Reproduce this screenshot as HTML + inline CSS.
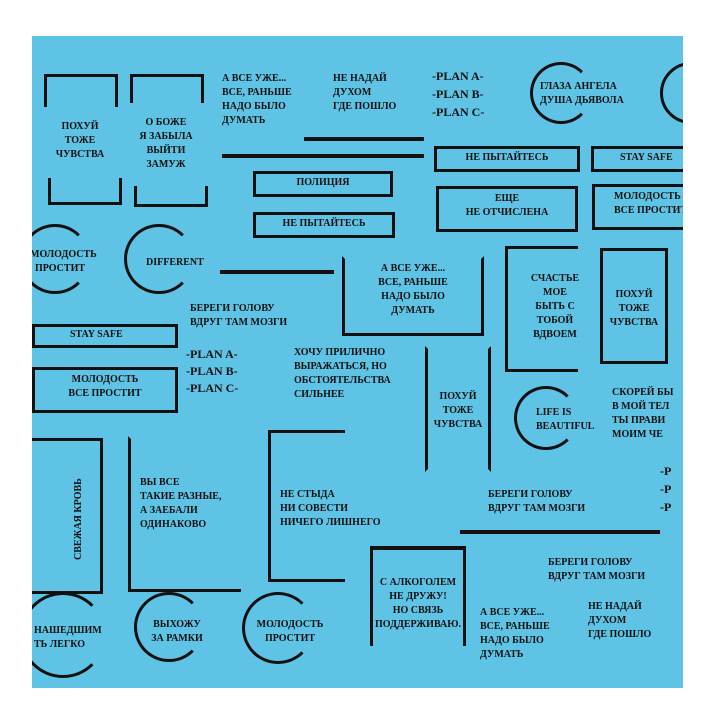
<!DOCTYPE html><html><head><meta charset="utf-8"><style>
body{margin:0;width:720px;height:720px;background:#fff;position:relative;overflow:hidden}
#s{position:absolute;left:32px;top:36px;width:651px;height:652px;background:#5ec3e4;overflow:hidden}
.t{position:absolute;font:bold 10px/14px "Liberation Serif","DejaVu Serif",serif;color:#111;white-space:pre;transform:translate(-32px,-36px)}
.c{text-align:center}
.b{position:absolute;border:3px solid #111;transform:translate(-32px,-36px)}
.l{position:absolute;background:#111;height:4px;transform:translate(-32px,-36px)}
.o{position:absolute;border:3px solid #111;border-radius:50%;transform:translate(-32px,-36px)}
.bt{border-bottom:none;height:auto}
</style></head><body><div id="s">
<!-- top brackets -->
<div class="b" style="left:44px;top:74px;width:68px;height:30px;border-bottom:none"></div>
<div class="b" style="left:48px;top:178px;width:68px;height:24px;border-top:none"></div>
<div class="t c" style="left:50px;top:120px;width:60px">ПОХУЙ
ТОЖЕ
ЧУВСТВА</div>
<div class="b" style="left:130px;top:74px;width:68px;height:26px;border-bottom:none"></div>
<div class="b" style="left:134px;top:186px;width:68px;height:18px;border-top:none"></div>
<div class="t c" style="left:128px;top:116px;width:76px">О БОЖЕ
Я ЗАБЫЛА
ВЫЙТИ
ЗАМУЖ</div>
<div class="t" style="left:222px;top:72px">А ВСЕ УЖЕ...
ВСЕ, РАНЬШЕ
НАДО БЫЛО
ДУМАТЬ</div>
<div class="t" style="left:333px;top:72px">НЕ НАДАЙ
ДУХОМ
ГДЕ ПОШЛО</div>
<div class="l" style="left:304px;top:137px;width:120px"></div>
<div class="l" style="left:222px;top:154px;width:202px"></div>
<div class="t" style="left:432px;top:67px;font-size:12px;line-height:18px">-PLAN A-
-PLAN B-
-PLAN C-</div>
<div class="o" style="left:530px;top:62px;width:56px;height:56px;border-right-color:transparent"></div>
<div class="t" style="left:540px;top:80px">ГЛАЗА АНГЕЛА
ДУША ДЬЯВОЛА</div>
<div class="o" style="left:660px;top:62px;width:56px;height:56px"></div>
<div class="b" style="left:253px;top:171px;width:134px;height:20px"></div>
<div class="t c" style="left:253px;top:176px;width:140px">ПОЛИЦИЯ</div>
<div class="b" style="left:253px;top:212px;width:136px;height:20px"></div>
<div class="t c" style="left:253px;top:217px;width:142px">НЕ ПЫТАЙТЕСЬ</div>
<div class="b" style="left:434px;top:146px;width:140px;height:20px"></div>
<div class="t c" style="left:434px;top:151px;width:146px">НЕ ПЫТАЙТЕСЬ</div>
<div class="b" style="left:591px;top:146px;width:100px;height:20px"></div>
<div class="t" style="left:620px;top:151px">STAY SAFE</div>
<div class="b" style="left:436px;top:186px;width:136px;height:40px"></div>
<div class="t c" style="left:436px;top:192px;width:142px">ЕЩЕ
НЕ ОТЧИСЛЕНА</div>
<div class="b" style="left:592px;top:184px;width:100px;height:40px"></div>
<div class="t" style="left:614px;top:190px">МОЛОДОСТЬ
ВСЕ ПРОСТИТ</div>
<!-- circles row -->
<div class="o" style="left:20px;top:224px;width:64px;height:64px;border-right-color:transparent"></div>
<div class="t c" style="left:30px;top:248px;width:60px">МОЛОДОСТЬ
ПРОСТИТ</div>
<div class="o" style="left:124px;top:224px;width:64px;height:64px;border-right-color:transparent"></div>
<div class="t" style="left:146px;top:256px">DIFFERENT</div>
<div class="l" style="left:220px;top:270px;width:114px"></div>
<div class="b" style="left:342px;top:256px;width:136px;height:74px;border-top-color:transparent"></div>
<div class="t c" style="left:342px;top:262px;width:142px">А ВСЕ УЖЕ...
ВСЕ, РАНЬШЕ
НАДО БЫЛО
ДУМАТЬ</div>
<div class="t" style="left:190px;top:302px">БЕРЕГИ ГОЛОВУ
ВДРУГ ТАМ МОЗГИ</div>
<div class="b" style="left:32px;top:324px;width:140px;height:18px"></div>
<div class="t" style="left:70px;top:328px">STAY SAFE</div>
<div class="b" style="left:32px;top:367px;width:140px;height:40px"></div>
<div class="t c" style="left:32px;top:373px;width:146px">МОЛОДОСТЬ
ВСЕ ПРОСТИТ</div>
<div class="t" style="left:186px;top:346px;font-size:12px;line-height:17px">-PLAN A-
-PLAN B-
-PLAN C-</div>
<div class="t" style="left:294px;top:346px">ХОЧУ ПРИЛИЧНО
ВЫРАЖАТЬСЯ, НО
ОБСТОЯТЕЛЬСТВА
СИЛЬНЕЕ</div>
<div class="b" style="left:505px;top:246px;width:70px;height:120px;border-right:none"></div>
<div class="t c" style="left:520px;top:272px;width:70px">СЧАСТЬЕ
МОЕ
БЫТЬ С
ТОБОЙ
ВДВОЕМ</div>
<div class="b" style="left:600px;top:248px;width:62px;height:110px"></div>
<div class="t c" style="left:600px;top:288px;width:68px">ПОХУЙ
ТОЖЕ
ЧУВСТВА</div>
<div class="b" style="left:425px;top:346px;width:60px;height:120px;border-top-color:transparent;border-bottom-color:transparent"></div>
<div class="t c" style="left:425px;top:390px;width:66px">ПОХУЙ
ТОЖЕ
ЧУВСТВА</div>
<div class="o" style="left:514px;top:386px;width:58px;height:58px;border-right-color:transparent"></div>
<div class="t" style="left:536px;top:406px">LIFE IS
BEAUTIFUL</div>
<div class="t" style="left:612px;top:386px">СКОРЕЙ БЫ
В МОЙ ТЕЛ
ТЫ ПРАВИ
МОИМ ЧЕ</div>
<!-- lower -->
<div class="b" style="left:30px;top:438px;width:70px;height:150px;border-left:none"></div>
<div class="t" style="left:72px;top:560px;transform:translate(-32px,-36px) rotate(-90deg);transform-origin:left top">СВЕЖАЯ КРОВЬ</div>
<div class="b" style="left:128px;top:436px;width:110px;height:150px;border-right:none;border-top-color:transparent"></div>
<div class="t" style="left:140px;top:476px">ВЫ ВСЕ
ТАКИЕ РАЗНЫЕ,
А ЗАЕБАЛИ
ОДИНАКОВО</div>
<div class="b" style="left:268px;top:430px;width:74px;height:146px;border-right:none"></div>
<div class="t" style="left:280px;top:488px">НЕ СТЫДА
НИ СОВЕСТИ
НИЧЕГО ЛИШНЕГО</div>
<div class="t" style="left:488px;top:488px">БЕРЕГИ ГОЛОВУ
ВДРУГ ТАМ МОЗГИ</div>
<div class="l" style="left:460px;top:530px;width:200px"></div>
<div class="t" style="left:660px;top:462px;font-size:12px;line-height:18px">-P
-P
-P</div>
<div class="b" style="left:370px;top:546px;width:90px;height:100px;border-top:none;border-bottom:none"></div>
<div class="l" style="left:370px;top:546px;width:96px"></div>
<div class="t c" style="left:366px;top:576px;width:104px">С АЛКОГОЛЕМ
НЕ ДРУЖУ!
НО СВЯЗЬ
ПОДДЕРЖИВАЮ.</div>
<div class="t" style="left:548px;top:556px">БЕРЕГИ ГОЛОВУ
ВДРУГ ТАМ МОЗГИ</div>
<div class="t" style="left:480px;top:606px">А ВСЕ УЖЕ...
ВСЕ, РАНЬШЕ
НАДО БЫЛО
ДУМАТЬ</div>
<div class="t" style="left:588px;top:600px">НЕ НАДАЙ
ДУХОМ
ГДЕ ПОШЛО</div>
<div class="o" style="left:20px;top:592px;width:80px;height:80px;border-right-color:transparent"></div>
<div class="t" style="left:34px;top:624px">НАШЕДШИМ
ТЬ ЛЕГКО</div>
<div class="o" style="left:134px;top:592px;width:64px;height:64px;border-right-color:transparent"></div>
<div class="t c" style="left:146px;top:618px;width:62px">ВЫХОЖУ
ЗА РАМКИ</div>
<div class="o" style="left:242px;top:592px;width:66px;height:66px;border-right-color:transparent"></div>
<div class="t c" style="left:250px;top:618px;width:80px">МОЛОДОСТЬ
ПРОСТИТ</div>
</div></body></html>
